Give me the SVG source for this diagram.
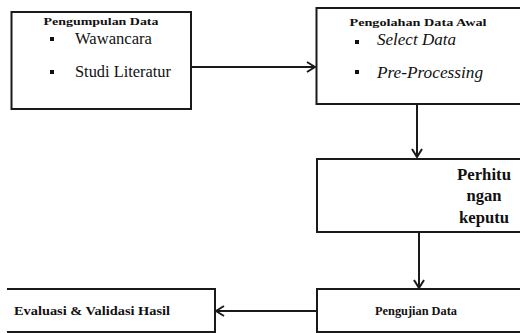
<svg xmlns="http://www.w3.org/2000/svg" width="520" height="333" viewBox="0 0 520 333">
<defs>
<style>
.box{fill:#fff;stroke:#1a1a1a;stroke-width:2}
.ln{fill:none;stroke:#1a1a1a;stroke-width:2}
text{fill:#111;font-family:'Liberation Serif','Times New Roman',serif}
.b{font-weight:bold;font-size:11px}
.b2{font-weight:bold;font-size:12px}
.r{font-size:16px}
.i{font-size:16px;font-style:italic}
.bb{font-weight:bold;font-size:16px}
.bul{fill:#111}
</style>
<marker id="ah" viewBox="0 0 10 12" refX="9" refY="6" markerWidth="10" markerHeight="12" markerUnits="userSpaceOnUse" orient="auto">
<path d="M1,1 L9,6 L1,11" fill="none" stroke="#1a1a1a" stroke-width="2"/>
</marker>
</defs>
<rect width="520" height="333" fill="#fff"/>
<g id="connectors">
<line class="ln" x1="191" y1="67" x2="315" y2="67" marker-end="url(#ah)"/>
<line class="ln" x1="417" y1="104" x2="417" y2="157" marker-end="url(#ah)"/>
<line class="ln" x1="419" y1="232" x2="419" y2="288" marker-end="url(#ah)"/>
<line class="ln" x1="316" y1="311" x2="216" y2="311" marker-end="url(#ah)"/>
</g>
<g id="pengumpulan">
<rect class="box" x="11.5" y="12" width="179.5" height="97"/>
<text class="b" x="101" y="25" text-anchor="middle" textLength="115" lengthAdjust="spacingAndGlyphs">Pengumpulan Data</text>
<rect class="bul" x="50" y="37" width="4" height="4"/>
<text class="r" x="75" y="44" textLength="77" lengthAdjust="spacingAndGlyphs">Wawancara</text>
<rect class="bul" x="50" y="70" width="4" height="4"/>
<text class="r" x="75" y="77" textLength="96" lengthAdjust="spacingAndGlyphs">Studi Literatur</text>
</g>
<g id="pengolahan">
<rect class="box" x="316.5" y="8" width="210" height="96"/>
<text class="b" x="418" y="26" text-anchor="middle" textLength="137" lengthAdjust="spacingAndGlyphs">Pengolahan Data Awal</text>
<rect class="bul" x="355" y="40" width="4" height="4"/>
<text class="i" x="377" y="45" textLength="79" lengthAdjust="spacingAndGlyphs">Select Data</text>
<rect class="bul" x="355" y="70" width="4" height="4"/>
<text class="i" x="377" y="78" textLength="106" lengthAdjust="spacingAndGlyphs">Pre-Processing</text>
</g>
<g id="perhitungan">
<rect class="box" x="317" y="159" width="210" height="73"/>
<text class="bb" x="484" y="180" text-anchor="middle" textLength="54" lengthAdjust="spacingAndGlyphs">Perhitu</text>
<text class="bb" x="484" y="201" text-anchor="middle" textLength="35" lengthAdjust="spacingAndGlyphs">ngan</text>
<text class="bb" x="484" y="223" text-anchor="middle" textLength="50" lengthAdjust="spacingAndGlyphs">keputu</text>
</g>
<g id="pengujian">
<rect class="box" x="317" y="289" width="210" height="43"/>
<text class="b2" x="416" y="315" text-anchor="middle" textLength="82" lengthAdjust="spacingAndGlyphs">Pengujian Data</text>
</g>
<g id="evaluasi">
<path class="ln" d="M7,289 H215 V332 H7" fill="#fff"/>
<text class="b2" x="14" y="315" textLength="156" lengthAdjust="spacingAndGlyphs">Evaluasi &amp; Validasi Hasil</text>
</g>
</svg>
